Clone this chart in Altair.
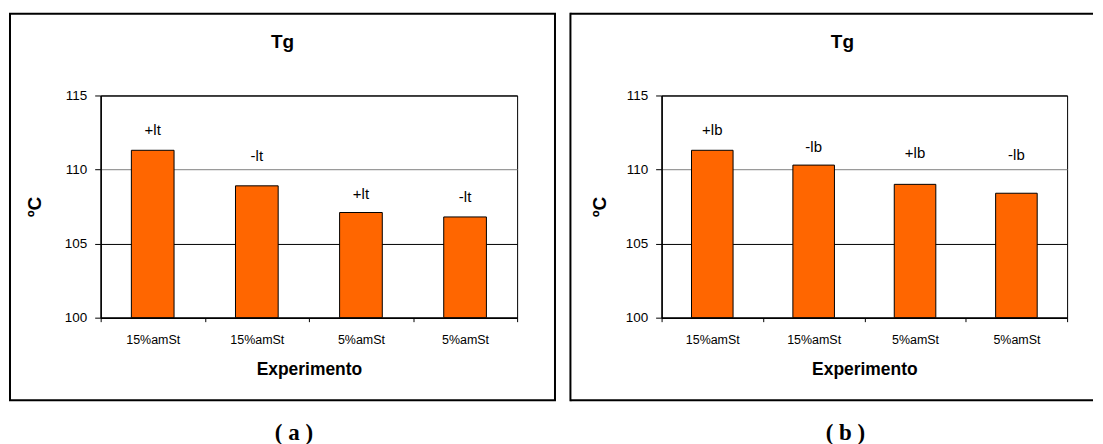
import json
import altair as alt
import pandas as pd

# ---- data ----
categories = ["15%amSt", "15%amSt", "5%amSt", "5%amSt"]
positions = [0, 1, 2, 3]

values_a = [111.3, 108.9, 107.1, 106.8]
labels_a = ["+lt", "-lt", "+lt", "-lt"]
label_at_a = [112.65, 110.9, 108.35, 108.15]

values_b = [111.3, 110.3, 109.0, 108.4]
labels_b = ["+lb", "-lb", "+lb", "-lb"]
label_at_b = [112.65, 111.55, 111.1, 110.95]

y_ticks = [100, 105, 110, 115]

FONT = "Liberation Sans"
SERIF = "Liberation Serif"
ORANGE = "#FF6600"
H = 223

label_expr = json.dumps(categories) + "[datum.value]"


def panel(values, labels, label_at, width, caption, box_left, box_right,
          title_x, ytitle_x, caption_x, open_right):
    df = pd.DataFrame({"pos": positions, "value": values,
                       "label": labels, "label_at": label_at})
    base = alt.Chart(df)
    one = alt.Chart(pd.DataFrame({"k": [0]}))

    x = alt.X("pos:O",
              scale=alt.Scale(paddingInner=0, paddingOuter=0),
              axis=alt.Axis(title="Experimento", labelExpr=label_expr,
                            labelAngle=0, tickBand="extent", tickSize=4,
                            labelPadding=12, labelFontSize=12.5,
                            titleFontSize=17.5, titleFontWeight="bold",
                            titleY=52, titleBaseline="middle",
                            grid=False))
    y = alt.Y("value:Q",
              scale=alt.Scale(domain=[100, 115], zero=False, nice=False),
              axis=alt.Axis(values=y_ticks, tickSize=6, labelPadding=8,
                            labelFontSize=13.5, grid=True,
                            gridColor={"condition": {"test": "datum.value === 110", "value": "#808080"},
                                       "value": "black"},
                            title="ºC", titleFontSize=19, titleFontWeight="bold",
                            titleAngle=270, titleX=ytitle_x, titleY=H / 2,
                            titleAlign="center", titleBaseline="middle"))

    bars = base.mark_bar(width=alt.RelativeBandSize(0.41), color=ORANGE,
                         stroke="black", strokeWidth=1).encode(
        x=x, y=y, y2=alt.datum(100))

    texts = base.mark_text(fontSize=15, font=FONT, baseline="middle",
                           color="black").encode(
        x="pos:O", y=alt.Y("label_at:Q"), text="label:N")

    title = one.mark_text(text="Tg", fontSize=19, fontWeight="bold", font=FONT,
                          baseline="middle", color="black").encode(
        x=alt.value(title_x), y=alt.value(-54))

    cap = one.mark_text(text=caption, fontSize=23, fontWeight="bold", font=SERIF,
                        baseline="middle", color="black").encode(
        x=alt.value(caption_x), y=alt.value(339))

    layers = [bars, texts, title, cap]
    if open_right:
        top = one.mark_rule(color="black", strokeWidth=2).encode(
            x=alt.value(box_left), x2=alt.value(box_right), y=alt.value(-82))
        bot = one.mark_rule(color="black", strokeWidth=2).encode(
            x=alt.value(box_left), x2=alt.value(box_right), y=alt.value(306))
        left = one.mark_rule(color="black", strokeWidth=2).encode(
            x=alt.value(box_left), y=alt.value(-83), y2=alt.value(307))
        layers = [top, bot, left] + layers
    else:
        box = one.mark_rect(fillOpacity=0, stroke="black", strokeWidth=2).encode(
            x=alt.value(box_left), x2=alt.value(box_right),
            y=alt.value(-82), y2=alt.value(306))
        layers = [box] + layers

    return alt.layer(*layers).properties(width=width, height=H)


left_panel = panel(values_a, labels_a, label_at_a, 418, "( a )",
                   -91, 456, 182.5, -66, 194, False)
right_panel = panel(values_b, labels_b, label_at_b, 407, "( b )",
                    -91.5, 433, 181.5, -62, 184.5, True)

chart = alt.hconcat(left_panel, right_panel, spacing=12).properties(
    padding={"left": 0, "right": 0, "top": 2, "bottom": 0},
    background="white",
).configure_view(stroke="black", strokeWidth=1).configure_axis(
    labelFont=FONT, titleFont=FONT, labelColor="black", titleColor="black",
    domainColor="black", tickColor="black", domainWidth=1.5
).configure_text(font=FONT)

chart.save("out.html", embed_options={"renderer": "svg", "actions": False})
